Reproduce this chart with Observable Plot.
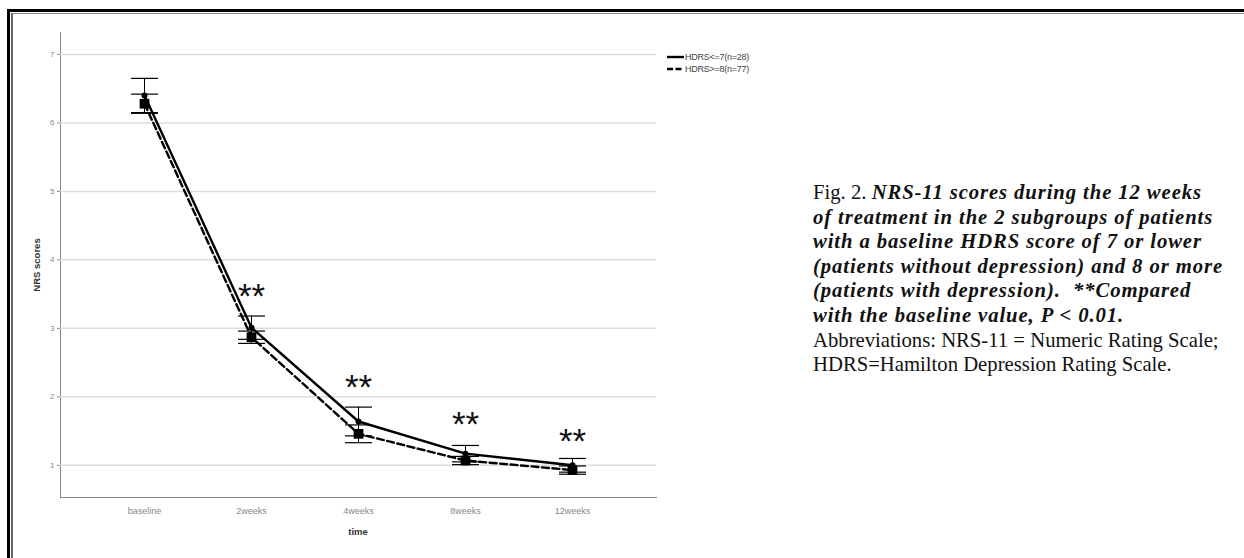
<!DOCTYPE html>
<html>
<head>
<meta charset="utf-8">
<script src="https://cdn.jsdelivr.net/npm/d3@7"></script>
<script src="https://cdn.jsdelivr.net/npm/@observablehq/plot@0.6"></script>
<style>
  html, body { margin: 0; padding: 0; background: #fff; width: 1244px; height: 558px; overflow: hidden; position: relative; }
  .fl { position: absolute; }
  #ft1 { left: 7px; right: 0; top: 9px; height: 3px; background: #000; }
  #fl1 { left: 7px; width: 3px; top: 9px; bottom: 0; background: #000; }
  #ft2 { left: 11px; right: 0; top: 12.5px; height: 1.5px; background: #888; }
  #fl2 { left: 11px; width: 1.5px; top: 12.5px; bottom: 0; background: #666; }
  #chart { position: absolute; left: 0; top: 0; }
  #chart svg [aria-label^="y-axis"] text { font-size: 8px; }
  .axtitle { position: absolute; font-family: "Liberation Sans", Arial, sans-serif; font-weight: bold; color: #333; font-size: 9.5px; }
  #ytitle { left: 36px; top: 265px; transform: translate(-50%, -50%) rotate(-90deg); white-space: nowrap; }
  #xtitle { left: 358px; top: 531px; transform: translate(-50%, -50%); }
  #legend { position: absolute; left: 667px; top: 51px; font-family: "Liberation Sans", Arial, sans-serif; font-size: 9px; color: #444; letter-spacing: -0.25px; }
  #legend div { display: flex; align-items: center; height: 12px; }
  #legend svg { margin-right: 1px; }
  #caption { position: absolute; left: 813px; top: 180px; font-family: "Liberation Serif", "Times New Roman", serif; font-size: 20.7px; line-height: 24.6px; color: #111; white-space: pre; }
  #caption .it { font-style: italic; font-weight: bold; letter-spacing: 0.9px; }
</style>
</head>
<body>
<div class="fl" id="ft1"></div>
<div class="fl" id="fl1"></div>
<div class="fl" id="ft2"></div>
<div class="fl" id="fl2"></div>
<div id="chart"></div>
<div id="ytitle" class="axtitle">NRS scores</div>
<div id="xtitle" class="axtitle">time</div>
<div id="legend"></div>
<div id="caption"></div>
<script>
// ---- data ----
const timepoints = ["baseline", "2weeks", "4weeks", "8weeks", "12weeks"];
const seriesNames = ["HDRS<=7(n=28)", "HDRS>=8(n=77)"];
// HDRS<=7 (solid line, round markers)
const lowMean = [6.40, 3.01, 1.64, 1.17, 1.00];
const lowLo   = [6.15, 2.84, 1.43, 1.05, 0.90];
const lowHi   = [6.65, 3.18, 1.85, 1.29, 1.10];
// HDRS>=8 (dashed line, square markers)
const highMean = [6.28, 2.87, 1.46, 1.07, 0.93];
const highLo   = [6.14, 2.78, 1.33, 1.01, 0.87];
const highHi   = [6.42, 2.96, 1.59, 1.13, 0.99];
// significance annotations
const starTimes = ["2weeks", "4weeks", "8weeks", "12weeks"];
const starY = [3.60, 2.27, 1.73, 1.48];
const starText = "**";
const yTicks = [1, 2, 3, 4, 5, 6, 7];
const yDomain = [0.53, 7.32];

// ---- build tables ----
const rows = [];
timepoints.forEach((t, i) => {
  rows.push({time: t, group: seriesNames[0], mean: lowMean[i], lo: lowLo[i], hi: lowHi[i]});
  rows.push({time: t, group: seriesNames[1], mean: highMean[i], lo: highLo[i], hi: highHi[i]});
});
const lowRows = rows.filter(d => d.group === seriesNames[0]);
const highRows = rows.filter(d => d.group === seriesNames[1]);
const stars = starTimes.map((t, i) => ({time: t, y: starY[i]}));

// horizontal cap symbol
const capSymbol = {
  draw(ctx, size) {
    const w = Math.sqrt(size / Math.PI);
    ctx.moveTo(-w, 0);
    ctx.lineTo(w, 0);
  }
};

const chart = Plot.plot({
  width: 740,
  height: 558,
  marginLeft: 60,
  marginRight: 84,
  marginTop: 32,
  marginBottom: 61,
  style: {fontFamily: "Liberation Sans, Arial, sans-serif", fontSize: "9px", color: "#888", background: "transparent"},
  x: {type: "point", domain: timepoints, padding: 0.772, label: null, tickSize: 0, tickPadding: 10, line: true},
  y: {domain: yDomain, ticks: yTicks, tickFormat: d3.format("d"), tickSize: 3, tickPadding: 3, label: null, line: true},
  marks: [
    Plot.ruleY(yTicks, {stroke: "#dcdcdc", strokeWidth: 1.5}),
    // error bars
    Plot.ruleX(rows, {x: "time", y1: "lo", y2: "hi", stroke: "#000", strokeWidth: 1}),
    Plot.dot(rows, {x: "time", y: "lo", symbol: capSymbol, r: 13.5, stroke: "#000", strokeWidth: 1.2, fill: "none"}),
    Plot.dot(rows, {x: "time", y: "hi", symbol: capSymbol, r: 13.5, stroke: "#000", strokeWidth: 1.2, fill: "none"}),
    // lines
    Plot.line(lowRows, {x: "time", y: "mean", stroke: "#000", strokeWidth: 2.4}),
    Plot.line(highRows, {x: "time", y: "mean", stroke: "#000", strokeWidth: 2.4, strokeDasharray: "7,3.5"}),
    // markers
    Plot.dot(lowRows, {x: "time", y: "mean", symbol: "circle", r: 3, fill: "#000", stroke: "none"}),
    Plot.dot(highRows, {x: "time", y: "mean", symbol: "square", r: 5.5, fill: "#000", stroke: "none"}),
    // significance stars
    Plot.text(stars, {x: "time", y: "y", text: () => starText, fontSize: 35, fill: "#111", dy: 9.5, fontFamily: "Liberation Sans, Arial, sans-serif"})
  ]
});
document.getElementById("chart").appendChild(chart);

// ---- legend ----
const legend = document.getElementById("legend");
seriesNames.forEach((name, i) => {
  const row = document.createElement("div");
  const dash = i === 0 ? "" : ' stroke-dasharray="6,2.5"';
  row.innerHTML = `<svg width="17" height="6"><line x1="0" y1="3" x2="17" y2="3" stroke="#000" stroke-width="2.4"${dash}/></svg><span>${name.replace(/</g, "&lt;").replace(/>/g, "&gt;")}</span>`;
  legend.appendChild(row);
});

// ---- caption ----
const captionLines = [
  [["Fig. 2. ", false], ["NRS-11 scores during the 12 weeks", true]],
  [["of treatment in the 2 subgroups of patients", true]],
  [["with a baseline HDRS score of 7 or lower", true]],
  [["(patients without depression) and 8 or more", true]],
  [["(patients with depression).  **Compared", true]],
  [["with the baseline value, P < 0.01.", true]],
  [["Abbreviations: NRS-11 = Numeric Rating Scale;", false]],
  [["HDRS=Hamilton Depression Rating Scale.", false]]
];
const cap = document.getElementById("caption");
captionLines.forEach(parts => {
  const div = document.createElement("div");
  parts.forEach(([txt, it]) => {
    const s = document.createElement("span");
    if (it) s.className = "it";
    s.textContent = txt;
    div.appendChild(s);
  });
  cap.appendChild(div);
});
</script>
</body>
</html>
